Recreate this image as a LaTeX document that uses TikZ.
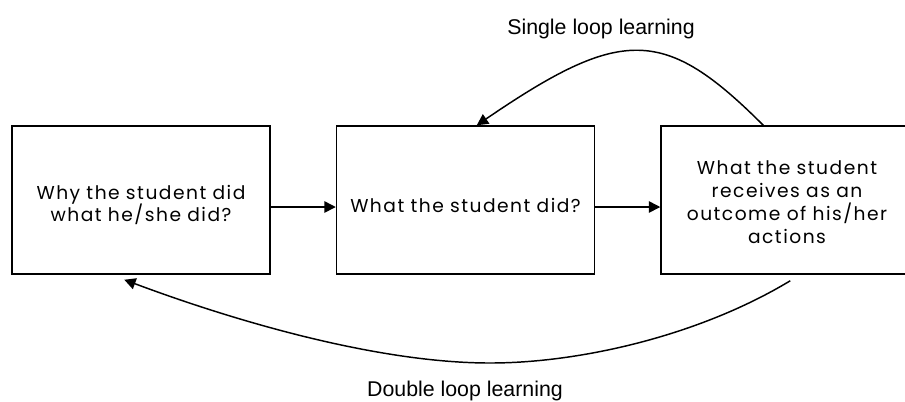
\documentclass[tikz,border=0pt]{standalone}
\usepackage{fontspec}
\setmainfont{Poppins}[LetterSpace=8,WordSpace=1.3]
\newfontfamily\labelfont{Liberation Sans}
\usetikzlibrary{arrows.meta,calc}

\begin{document}
\begin{tikzpicture}[x=0.75pt,y=-0.75pt,
  box/.style={draw,line width=1.1pt,minimum width=193.5pt,minimum height=111pt,inner sep=0pt},
  boxtext/.style={inner sep=0pt,align=center,text width=190pt,
    font=\fontsize{14}{17.1}\selectfont},
  arr/.style={line width=1.1pt,-{Triangle[length=8.5pt,width=8.5pt]}},
  lbl/.style={font=\labelfont\fontsize{16}{18}\selectfont}]
\useasboundingbox (0,0) rectangle (905,401);
\begin{scope}
\clip (0,0) rectangle (905,401);

% the three stages
\node[box] (why) at (141,200) {};
\node[box] (did) at (465.5,200) {};
\node[box] (outcome) at (790,200) {};
\node[boxtext] (why-text) at ($(why.center)+(0,5)$) {Why the student did\\what he/she did?};
\node[boxtext] (did-text) at ($(did.center)+(0,5)$) {What the student did?};
\node[boxtext] (outcome-text) at ($(outcome.center)+(-3,2)$) {What the student\\receives as an\\outcome of his/her\\actions};

% forward flow
\draw[arr] ($(why.east)+(0,7)$) -- ($(did.west)+(0,7)$);
\draw[arr] ($(did.east)+(0,7)$) -- ($(outcome.west)+(0,7)$);

% single loop: outcome back to the action
\coordinate (sl-from) at ($(outcome.north west)+(103,0)$);
\coordinate (sl-to) at ($(did.north west)+(141,0)$);
\draw[arr] (sl-from) .. controls +(-99,-99) and +(145,-99) .. (sl-to);

% double loop: outcome back to the reasons
\coordinate (dl-from) at ($(outcome.south west)+(130,6)$);
\coordinate (dl-low) at (490,363);
\coordinate (dl-to) at ($(why.south west)+(113,5)$);
\draw[arr] (dl-from) .. controls +(-91,55) and +(90,0) .. (dl-low)
  .. controls +(-110,0) and +(115,43) .. (dl-to);

% loop labels
\node[lbl] (single) at (601,29) {Single loop learning};
\node[lbl] (double) at (465,391) {Double loop learning};
\end{scope}
\end{tikzpicture}
\end{document}
